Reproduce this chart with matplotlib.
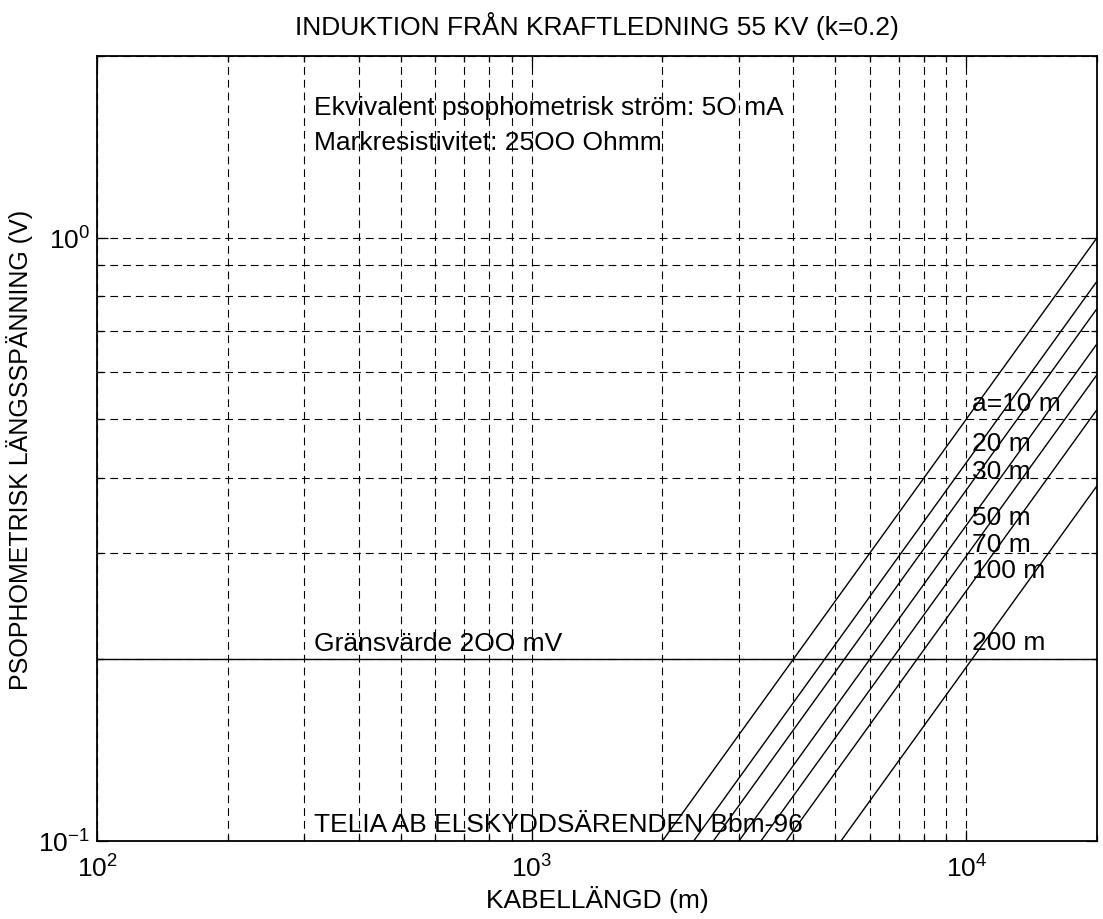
import matplotlib
matplotlib.use("Agg")
import matplotlib.pyplot as plt
from matplotlib.ticker import LogLocator, NullFormatter

plt.rcParams['font.family'] = ['Liberation Sans', 'DejaVu Sans']
plt.rcParams['mathtext.fontset'] = 'custom'
plt.rcParams['mathtext.rm'] = 'Liberation Sans'
plt.rcParams['mathtext.it'] = 'Liberation Sans:italic'
plt.rcParams['mathtext.bf'] = 'Liberation Sans:bold'
plt.rcParams['axes.unicode_minus'] = False

# Data
distances = ['a=10 m', '20 m', '30 m', '50 m', '70 m', '100 m', '200 m']
start_length = [2000, 2360, 2620, 3000, 3370, 3850, 5150]   # m, where V = 0.1
start_voltage = [0.1, 0.1, 0.1, 0.1, 0.1, 0.1, 0.1]
end_length = [20000, 20000, 20000, 20000, 20000, 20000, 20000]
end_voltage = [1.0, 0.847, 0.763, 0.667, 0.593, 0.519, 0.388]
label_y = [0.532, 0.457, 0.411, 0.344, 0.311, 0.281, 0.214]
label_x = 10300
limit_value = 0.2
limit_label = 'Gränsvärde 2OO mV'

FS = 19

fig = plt.figure(figsize=(11.03, 9.2), dpi=100)
ax = fig.add_axes([0.0879, 0.0848, 0.9067, 0.8532])
ax.set_xscale('log')
ax.set_yscale('log')
ax.set_xlim(100, 20000)
ax.set_ylim(0.1, 2)

ax.grid(True, which='both', color='black', linestyle=(0, (7, 4.5)), linewidth=0.8)
ax.set_axisbelow(True)

for i in range(len(distances)):
    ax.plot([start_length[i], end_length[i]], [start_voltage[i], end_voltage[i]],
            color='black', linewidth=1.0, solid_capstyle='butt')
    ax.text(label_x, label_y[i], distances[i], fontsize=FS, ha='left', va='center')

ax.axhline(limit_value, color='black', linewidth=1.0)
ax.text(315, limit_value * 1.015, limit_label, fontsize=FS, ha='left', va='bottom')
ax.text(315, 1.645, 'Ekvivalent psophometrisk ström: 5O mA', fontsize=FS, ha='left', va='center')
ax.text(315, 1.44, 'Markresistivitet: 25OO Ohmm', fontsize=FS, ha='left', va='center')
ax.text(315, 0.1067, 'TELIA AB ELSKYDDSÄRENDEN Bbm-96', fontsize=FS, ha='left', va='center')

ax.xaxis.set_major_locator(LogLocator(base=10))
ax.yaxis.set_major_locator(LogLocator(base=10))
ax.xaxis.set_minor_formatter(NullFormatter())
ax.yaxis.set_minor_formatter(NullFormatter())
ax.tick_params(which='both', direction='in', top=True, right=True, labelsize=FS)
ax.tick_params(which='major', length=8, width=0.9)
ax.tick_params(which='minor', length=4, width=0.9)
ax.tick_params(axis='x', pad=10)
ax.tick_params(axis='y', pad=5)
for s in ax.spines.values():
    s.set_linewidth(1.3)

ax.set_title('INDUKTION FRÅN KRAFTLEDNING 55 KV (k=0.2)', fontsize=FS, pad=16)
ax.set_xlabel('KABELLÄNGD (m)', fontsize=FS, labelpad=2)
ax.set_ylabel('PSOPHOMETRISK LÄNGSSPÄNNING (V)', fontsize=18, labelpad=4)

fig.savefig('out.png', dpi=100)
